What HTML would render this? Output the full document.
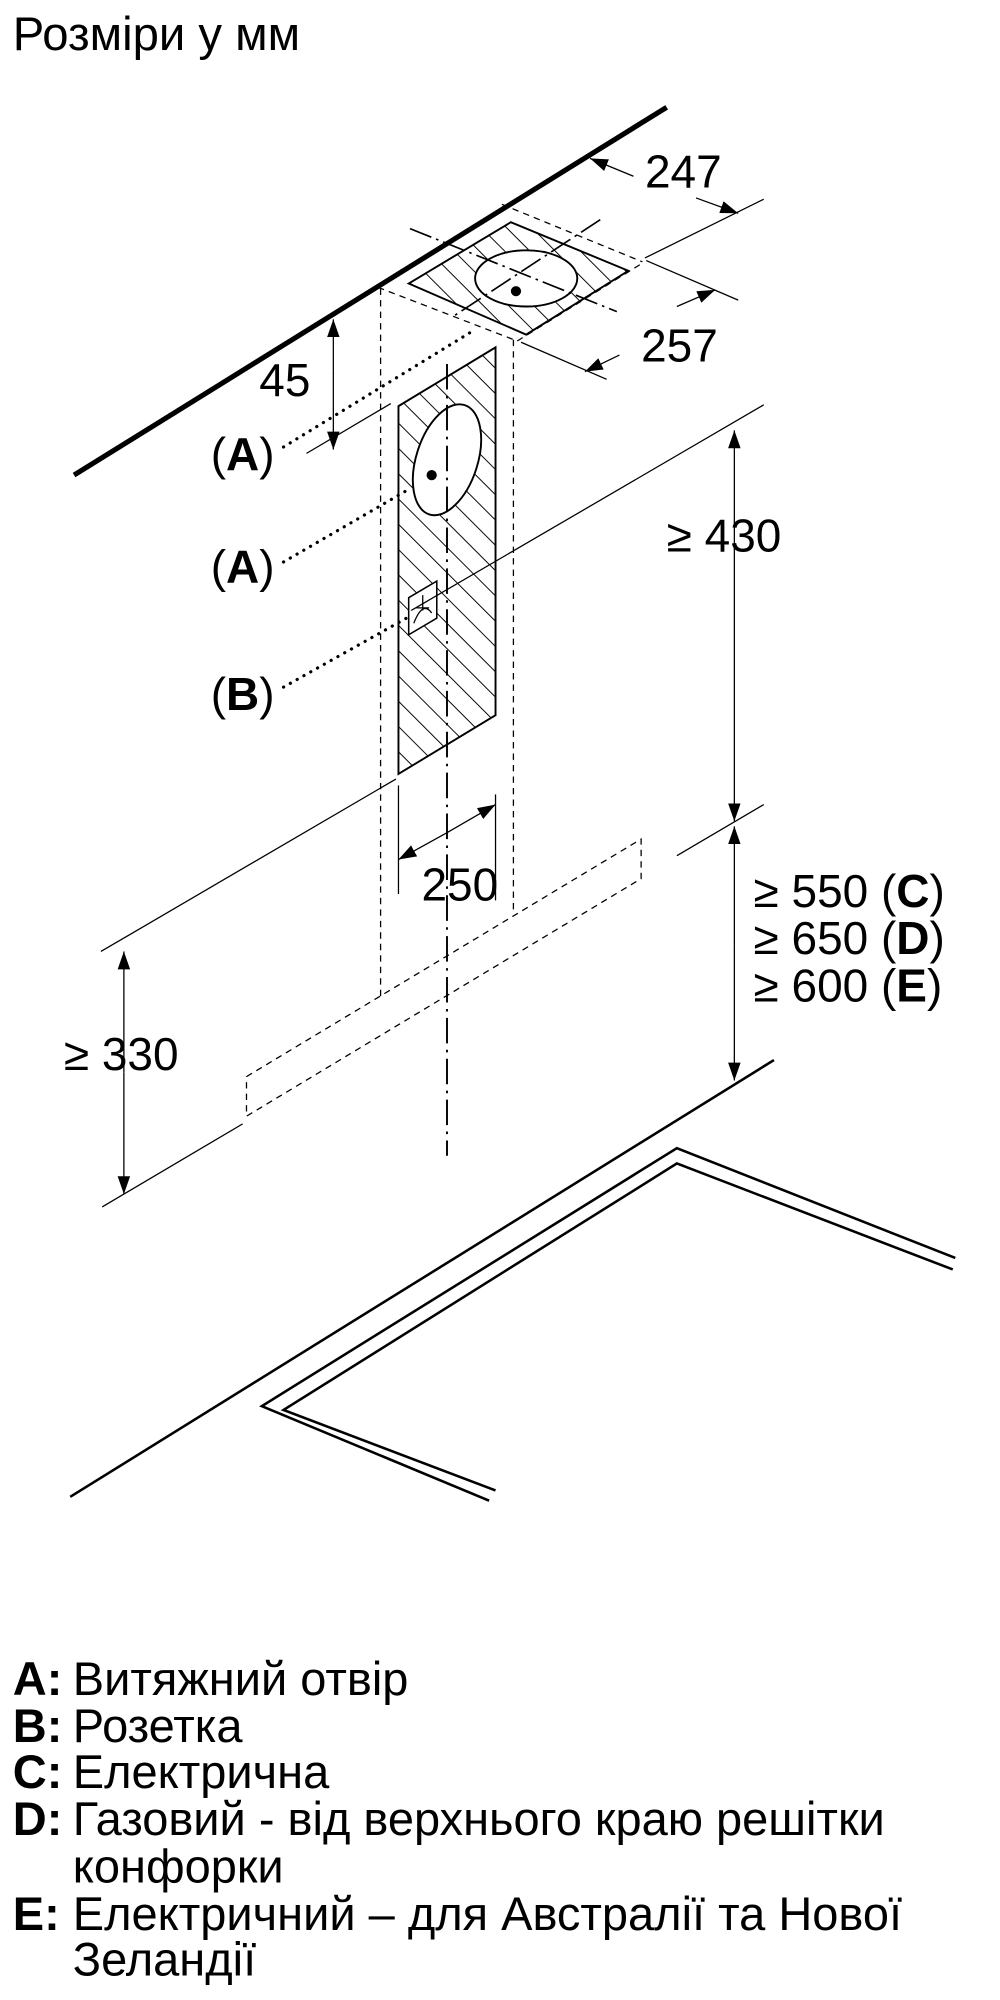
<!DOCTYPE html>
<html><head><meta charset="utf-8"><style>
html,body{margin:0;padding:0;background:#fff;}
svg{display:block;}
text{font-family:"Liberation Sans",sans-serif;fill:#000;}
</style></head><body>
<svg width="1000" height="2000" viewBox="0 0 783 1566" xmlns="http://www.w3.org/2000/svg">
<defs>
<pattern id="h" patternUnits="userSpaceOnUse" width="14" height="14" patternTransform="rotate(-45)">
<rect width="14" height="14" fill="#fff"/><line x1="0" y1="0" x2="0" y2="14" stroke="#000" stroke-width="1.5"/>
</pattern>
<marker id="ar" viewBox="0 0 10 10" refX="10" refY="5" markerWidth="14" markerHeight="14" markerUnits="userSpaceOnUse" orient="auto-start-reverse">
<path d="M0,1.5 L10,5 L0,8.5 Z" fill="#000"/></marker>
</defs>
<text x="10" y="39" font-size="37">Розміри у мм</text>

<line x1="58" y1="372" x2="522" y2="84" stroke="#000" stroke-width="4"/>

<polygon points="320,222 400,174 492,212 412,262" fill="url(#h)" stroke="#000" stroke-width="1.5"/>
<ellipse cx="412" cy="218" rx="40" ry="22" fill="#fff" stroke="#000" stroke-width="1.5"/>
<line x1="321" y1="179" x2="483" y2="244" stroke="#000" stroke-width="1.3" stroke-dasharray="18,4,2,4"/>
<line x1="470" y1="172" x2="356" y2="247" stroke="#000" stroke-width="1.3" stroke-dasharray="18,4,2,4"/>
<circle cx="404" cy="228" r="4"/>
<g stroke="#000" stroke-width="1" stroke-dasharray="5,4" fill="none">
<line x1="296" y1="225" x2="405" y2="267"/>
<line x1="405" y1="267" x2="503" y2="206"/>
<line x1="393" y1="160" x2="503" y2="205"/>
<line x1="298" y1="226" x2="298" y2="780"/>
<line x1="402" y1="266" x2="402" y2="715"/>
<polyline points="193,843 502,657 502,688 193,874 193,843"/>
</g>

<g stroke="#000" stroke-width="1" fill="none">
<line x1="505" y1="202" x2="598" y2="156"/>
<line x1="496" y1="138" x2="462" y2="124" marker-end="url(#ar)"/>
<line x1="545" y1="155" x2="578" y2="167" marker-end="url(#ar)"/>
<line x1="408" y1="268" x2="475" y2="297"/>
<line x1="506" y1="204" x2="578" y2="235"/>
<line x1="530" y1="240" x2="560" y2="227" marker-end="url(#ar)"/>
<line x1="485" y1="278" x2="458" y2="291" marker-end="url(#ar)"/>
<line x1="261" y1="290" x2="261" y2="250" marker-end="url(#ar)"/>
<line x1="261" y1="290" x2="261" y2="352" marker-end="url(#ar)"/>
<line x1="240" y1="355" x2="306" y2="316"/>
</g>
<text x="505" y="147" font-size="36">247</text>
<text x="502" y="283" font-size="36">257</text>
<text x="203" y="310" font-size="36">45</text>

<polygon points="312,318 388,272 388,560 312,606" fill="url(#h)" stroke="#000" stroke-width="1.5"/>
<ellipse cx="350" cy="360" rx="24" ry="45" transform="rotate(18 350 360)" fill="#fff" stroke="#000" stroke-width="1.5"/>
<circle cx="338" cy="372" r="4"/>
<polygon points="320,468 342,455 342,484 320,497" fill="#fff" stroke="#000" stroke-width="1.2"/>
<path d="M324,488 Q331,470 338,480 M331,466 L331,478 M326,476 L336,476" stroke="#000" stroke-width="1" fill="none"/>
<line x1="350" y1="285" x2="350" y2="905" stroke="#000" stroke-width="1.5" stroke-dasharray="20,5,2,5"/>

<g stroke="#000" stroke-width="1" fill="none">
<line x1="598" y1="317" x2="322" y2="478"/>
<line x1="310" y1="610" x2="79" y2="745"/>
<line x1="598" y1="630" x2="530" y2="670"/>
<line x1="190" y1="880" x2="80" y2="945"/>
<line x1="575" y1="480" x2="575" y2="337" marker-end="url(#ar)"/>
<line x1="575" y1="480" x2="575" y2="643" marker-end="url(#ar)"/>
<line x1="575" y1="740" x2="575" y2="647" marker-end="url(#ar)"/>
<line x1="575" y1="740" x2="575" y2="846" marker-end="url(#ar)"/>
<line x1="97" y1="840" x2="97" y2="745" marker-end="url(#ar)"/>
<line x1="97" y1="840" x2="97" y2="935" marker-end="url(#ar)"/>
<line x1="312" y1="615" x2="312" y2="700"/>
<line x1="388" y1="622" x2="388" y2="705"/>
<line x1="350" y1="652" x2="312" y2="673" marker-end="url(#ar)"/>
<line x1="350" y1="652" x2="388" y2="630" marker-end="url(#ar)"/>
</g>
<text x="522" y="432" font-size="36">≥ 430</text>
<text x="330" y="705" font-size="36">250</text>
<text x="50" y="838" font-size="36">≥ 330</text>
<text x="590" y="710" font-size="36">≥ 550 (<tspan font-weight="bold">C</tspan>)</text>
<text x="590" y="747" font-size="36">≥ 650 (<tspan font-weight="bold">D</tspan>)</text>
<text x="590" y="784" font-size="36">≥ 600 (<tspan font-weight="bold">E</tspan>)</text>

<line x1="55" y1="1172" x2="606" y2="830" stroke="#000" stroke-width="2"/>
<polyline points="383,1175 205,1101 530,899 748,985" fill="none" stroke="#000" stroke-width="2"/>
<polyline points="388,1167 222,1104 530,911 746,994" fill="none" stroke="#000" stroke-width="2"/>

<g stroke="#000" stroke-width="2.5" stroke-dasharray="0.1,6" stroke-linecap="round">
<line x1="222" y1="350" x2="372" y2="258"/>
<line x1="222" y1="440" x2="322" y2="382"/>
<line x1="222" y1="538" x2="320" y2="483"/>
</g>
<text x="165" y="368" font-size="36">(<tspan font-weight="bold">A</tspan>)</text>
<text x="165" y="456" font-size="36">(<tspan font-weight="bold">A</tspan>)</text>
<text x="165" y="556" font-size="36">(<tspan font-weight="bold">B</tspan>)</text>

<g font-size="36.8">
<text x="10" y="1327"><tspan font-weight="bold">A:</tspan><tspan x="57">Витяжний отвір</tspan></text>
<text x="10" y="1364"><tspan font-weight="bold">B:</tspan><tspan x="57">Розетка</tspan></text>
<text x="10" y="1400"><tspan font-weight="bold">C:</tspan><tspan x="57">Електрична</tspan></text>
<text x="10" y="1437"><tspan font-weight="bold">D:</tspan><tspan x="57">Газовий - від верхнього краю решітки</tspan></text>
<text x="57" y="1474">конфорки</text>
<text x="10" y="1511"><tspan font-weight="bold">E:</tspan><tspan x="57">Електричний – для Австралії та Нової</tspan></text>
<text x="57" y="1547">Зеландії</text>
</g>
</svg>
</body></html>
